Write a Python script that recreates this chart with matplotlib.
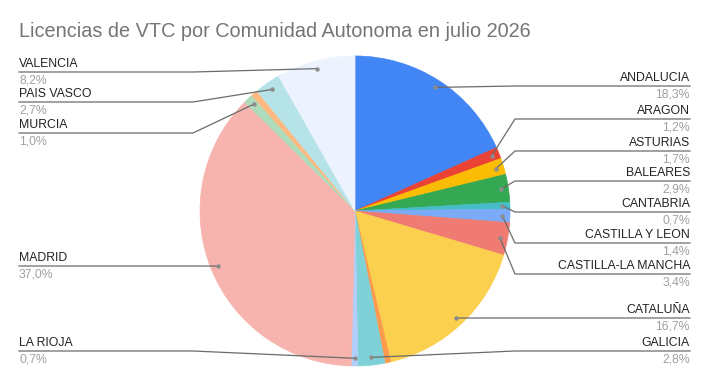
import matplotlib.pyplot as plt
import numpy as np

plt.rcParams['font.family'] = ['Liberation Sans', 'DejaVu Sans']

# data (percent of VTC licences, July 2026)
regions = ['ANDALUCIA', 'ARAGON', 'ASTURIAS', 'BALEARES', 'CANTABRIA',
           'CASTILLA Y LEON', 'CASTILLA-LA MANCHA', 'CATALUÑA', 'EXTREMADURA',
           'GALICIA', 'LA RIOJA', 'MADRID', 'MURCIA', 'NAVARRA',
           'PAIS VASCO', 'VALENCIA']
shares = [18.3, 1.2, 1.7, 2.9, 0.7, 1.4, 3.4, 16.7, 0.6,
          2.8, 0.7, 37.0, 1.0, 0.7, 2.7, 8.2]
labelled = ['ANDALUCIA', 'ARAGON', 'ASTURIAS', 'BALEARES', 'CANTABRIA',
            'CASTILLA Y LEON', 'CASTILLA-LA MANCHA', 'CATALUÑA', 'GALICIA',
            'LA RIOJA', 'MADRID', 'MURCIA', 'PAIS VASCO', 'VALENCIA']

colors = ['#4285f4', '#ea4335', '#fbbc04', '#34a853', '#46bdc6', '#7baaf7',
          '#f07b72', '#fcd04f', '#ff994d', '#7ed1d7', '#b3cefb', '#f7b4ae',
          '#aedcba', '#ffb880', '#b5e3e8', '#ecf3fe']

# label layout (pixel rows of the underline)
label_side = {'ANDALUCIA': 'r', 'ARAGON': 'r', 'ASTURIAS': 'r', 'BALEARES': 'r',
              'CANTABRIA': 'r', 'CASTILLA Y LEON': 'r', 'CASTILLA-LA MANCHA': 'r',
              'CATALUÑA': 'r', 'GALICIA': 'r', 'LA RIOJA': 'l', 'MADRID': 'l',
              'MURCIA': 'l', 'PAIS VASCO': 'l', 'VALENCIA': 'l'}
label_row = {'ANDALUCIA': 86, 'ARAGON': 119, 'ASTURIAS': 151, 'BALEARES': 181,
             'CANTABRIA': 212, 'CASTILLA Y LEON': 243, 'CASTILLA-LA MANCHA': 274,
             'CATALUÑA': 318, 'GALICIA': 351, 'LA RIOJA': 351, 'MADRID': 266,
             'MURCIA': 133, 'PAIS VASCO': 102, 'VALENCIA': 72}

W, H = 709, 386
CX, CY, R = 355, 211, 155

fig = plt.figure(figsize=(W / 100, H / 100), dpi=100)
ax = fig.add_axes([0, 0, 1, 1])

wedges, _ = ax.pie(shares, colors=colors, startangle=90, counterclock=False,
                   center=(CX, H - CY), radius=R,
                   wedgeprops=dict(linewidth=0.5))
for w, c in zip(wedges, colors):
    w.set_edgecolor(c)

ax.set_xlim(0, W)
ax.set_ylim(0, H)
ax.set_aspect('equal')
ax.axis('off')

total = sum(shares)
cum = np.cumsum([0] + shares[:-1])
line_col = '#6b6b6b'
for name, v, c0 in zip(regions, shares, cum):
    if name not in labelled:
        continue
    ang = np.deg2rad(90 - 360 * (c0 + v / 2) / total)
    dx = CX + 0.95 * R * np.cos(ang)
    dy = (H - CY) + 0.95 * R * np.sin(ang)
    ly = H - label_row[name]
    pct = ('%.1f%%' % v).replace('.', ',')
    if label_side[name] == 'r':
        ex = 515
        ax.plot([dx, ex, 690], [dy, ly, ly], color=line_col, lw=0.9)
        ax.text(690, ly + 2, name, ha='right', va='bottom', fontsize=8.8,
                color='#222222')
        ax.text(690, ly - 2.5, pct, ha='right', va='top', fontsize=8.8,
                color='#a0a0a0')
    else:
        ex = 193
        ax.plot([19, ex, dx], [ly, ly, dy], color=line_col, lw=0.9)
        ax.text(19, ly + 2, name, ha='left', va='bottom', fontsize=8.8,
                color='#222222')
        ax.text(19, ly - 2.5, pct, ha='left', va='top', fontsize=8.8,
                color='#a0a0a0')
    ax.plot(dx, dy, 'o', ms=3.2, color='#8c8c8c', mec='none')

ax.text(19, H - 37, 'Licencias de VTC por Comunidad Autonoma en julio 2026',
        ha='left', va='baseline', fontsize=14.3, color='#757575')

fig.savefig('out.png', dpi=100)
